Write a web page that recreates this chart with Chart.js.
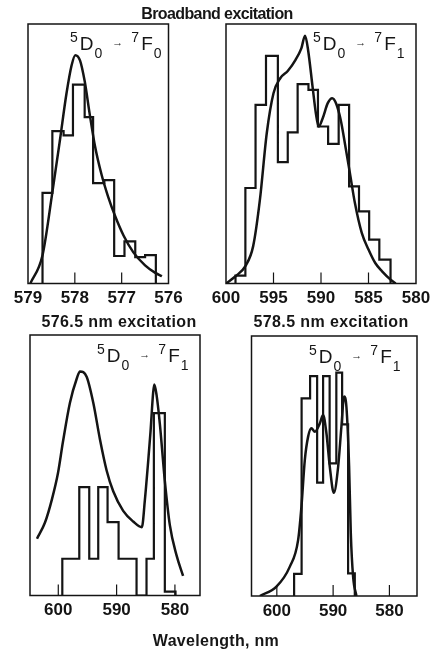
<!DOCTYPE html>
<html>
<head>
<meta charset="utf-8">
<script src="https://cdn.jsdelivr.net/npm/chart.js@4.4.0/dist/chart.umd.min.js"></script>
<style>
  body { margin: 0; background: #fff; width: 433px; height: 656px; position: relative; overflow: hidden;
         font-family: "Liberation Sans", Arial, sans-serif; color: #161616; }
  canvas { position: absolute; left: 0; top: 0; }
  .t { position: absolute; font-weight: bold; font-size: 16px; line-height: 16px; white-space: nowrap; transform: translate(-50%, -50%); }
  .lab { position: absolute; font-size: 19px; line-height: 18px; white-space: nowrap; }
  .lab .s { font-size: 14px; position: relative; top: -8px; margin-right: 2px; }
  .lab .b { font-size: 14px; position: relative; top: 8px; margin-left: 1px; }
  .lab .ar { font-size: 11px; position: relative; top: -4px; margin: 0 8px 0 10px; }
</style>
</head>
<body>
<canvas id="c1" width="433" height="656"></canvas>
<canvas id="c2" width="433" height="656"></canvas>
<canvas id="c3" width="433" height="656"></canvas>
<canvas id="c4" width="433" height="656"></canvas>

<div class="t" style="left:217px;top:14px;letter-spacing:-0.6px">Broadband excitation</div>
<div class="t" style="left:119px;top:322px;letter-spacing:0.4px">576.5 nm excitation</div>
<div class="t" style="left:331px;top:322px;letter-spacing:0.4px">578.5 nm excitation</div>
<div class="t" style="left:216px;top:641px;letter-spacing:0.3px">Wavelength, nm</div>

<div class="lab" style="left:70px;top:35px"><span class="s">5</span>D<span class="b">0</span><span class="ar">&rarr;</span><span class="s">7</span>F<span class="b">0</span></div>
<div class="lab" style="left:313px;top:35px"><span class="s">5</span>D<span class="b">0</span><span class="ar">&rarr;</span><span class="s">7</span>F<span class="b">1</span></div>
<div class="lab" style="left:97px;top:347px"><span class="s">5</span>D<span class="b">0</span><span class="ar">&rarr;</span><span class="s">7</span>F<span class="b">1</span></div>
<div class="lab" style="left:309px;top:348px"><span class="s">5</span>D<span class="b">0</span><span class="ar">&rarr;</span><span class="s">7</span>F<span class="b">1</span></div>

<script>
// panel 1: broadband, 5D0 -> 7F0
const p1Ticks = [576, 577, 578, 579];
const p1Edges = [578.69, 578.48, 578.24, 578.04, 577.79, 577.61, 577.37, 577.16, 576.94, 576.71, 576.50, 576.27];
const p1Counts = [34.9, 58.7, 57.1, 76.6, 64.1, 38.7, 39.8, 10.6, 16.2, 10.2, 10.9];
const p1CurveX = [578.95, 578.69, 578.48, 578.32, 578.18, 578.07, 577.99, 577.89, 577.79, 577.68, 577.57, 577.43, 577.29, 577.14, 576.96, 576.75, 576.50, 576.29, 576.14];
const p1CurveY = [0, 10.9, 35.1, 55, 73, 84, 88, 86, 78, 65, 53, 42, 33.5, 26, 18.5, 12, 7, 4.2, 2.8];

// panel 2: broadband, 5D0 -> 7F1
const p2Ticks = [580, 585, 590, 595, 600];
const p2Edges = [599.0, 597.96, 596.89, 595.79, 594.54, 593.5, 592.46, 591.32, 590.32, 589.25, 588.14, 587.04, 586.0, 584.93, 583.86, 582.68];
const p2Counts = [3, 36.8, 68.8, 87.7, 46.8, 58.2, 76.8, 74.6, 60.5, 53.8, 68.8, 37.4, 27.8, 16.9, 9.2];
const p2CurveX = [600.0, 599.0, 597.96, 597.14, 596.43, 595.71, 595.0, 594.29, 593.5, 592.68, 592.07, 591.68, 591.36, 590.89, 590.54, 590.25, 589.82, 589.29, 588.82, 588.39, 587.93, 587.43, 586.96, 586.43, 585.71, 585.0, 584.29, 583.57, 582.68, 582.14];
const p2CurveY = [0, 2.8, 6.7, 14.4, 32.3, 57.9, 73.3, 79.1, 81.9, 86.2, 90.6, 95.5, 90, 75.9, 65.6, 60.5, 63.7, 69.5, 71.4, 69.2, 63.1, 52.8, 42.6, 31, 19.5, 13.1, 7.9, 4.7, 1.5, 0];

// panel 3: 576.5 nm excitation
const p3Ticks = [580, 590, 600];
const p3Edges = [599.31, 596.4, 594.69, 593.15, 591.55, 589.66, 586.58, 584.87, 583.61, 581.73, 579.9];
const p3Counts = [14.1, 41.6, 14.1, 41.6, 28.2, 14.1, 0, 14.1, 70, 1.5];
const p3CurveX = [603.65, 602.28, 601.08, 600.05, 599.2, 598.0, 596.8, 596.28, 595.14, 594.0, 592.86, 591.71, 590.58, 588.87, 587.16, 585.67, 585.15, 584.64, 584.18, 583.73, 583.53, 583.15, 582.59, 581.73, 580.87, 579.73, 578.6];
const p3CurveY = [21.8, 28, 37, 47, 59, 74, 83.5, 86, 84, 74, 60, 48, 40, 32.5, 28.4, 26.2, 36.7, 50, 63, 78, 81, 77, 66, 44, 27, 15.5, 7.5];

// panel 4: 578.5 nm excitation
const p4Ticks = [580, 590, 600];
const p4Edges = [596.93, 595.6, 594.09, 592.84, 591.78, 590.62, 589.43, 588.4, 587.34, 586.15];
const p4Counts = [8.5, 76, 84.6, 43.6, 84.6, 51, 85.9, 66, 8.7];
const p4CurveX = [603.02, 600.07, 597.69, 596.22, 595.63, 595.03, 594.44, 593.85, 593.25, 592.36, 591.78, 591.19, 590.59, 589.88, 589.11, 588.53, 588.05, 587.64, 587.16, 586.86, 586.45, 585.86];
const p4CurveY = [0, 3.6, 11.3, 21.5, 34.3, 52.3, 61.3, 64.5, 63.2, 66.4, 69.6, 62.6, 49.7, 39.7, 49.7, 65.1, 76.7, 72.8, 49.7, 24.1, 7.4, 0];

const INK = '#141414';
const W = 433, H = 656, AXIS_H = 34;

// outline of a histogram: up at the first edge, across each bin, down at the last edge
function histPoints(edges, counts) {
  const pts = [{ x: edges[0], y: 0 }];
  counts.forEach((c, i) => pts.push({ x: edges[i], y: c }));
  pts.push({ x: edges[edges.length - 1], y: 0 });
  return pts;
}

// box round the plot area + short tick marks pointing inwards
const frame = {
  id: 'frame',
  afterDatasetsDraw(chart) {
    const { ctx, chartArea: a, scales: { x } } = chart;
    ctx.save();
    ctx.strokeStyle = INK;
    ctx.lineWidth = 1.5;
    ctx.strokeRect(a.left, a.top, a.right - a.left, a.bottom - a.top);
    ctx.lineWidth = 1.2;
    x.ticks.forEach(t => {
      if (t.value <= x.min || t.value >= x.max) return;
      const px = x.getPixelForValue(t.value);
      ctx.beginPath();
      ctx.moveTo(px, a.bottom);
      ctx.lineTo(px, a.bottom - 11);
      ctx.stroke();
    });
    ctx.restore();
  }
};

function makePanel(id, box, range, ticks, edges, counts, cx, cy) {
  new Chart(document.getElementById(id), {
    type: 'line',
    data: {
      datasets: [
        {
          data: histPoints(edges, counts),
          stepped: 'before',
          borderColor: INK,
          borderWidth: 2.2,
          pointRadius: 0
        },
        {
          data: cx.map((v, i) => ({ x: v, y: cy[i] })),
          borderColor: INK,
          borderWidth: 2.5,
          cubicInterpolationMode: 'monotone',
          pointRadius: 0
        }
      ]
    },
    options: {
      responsive: false,
      animation: false,
      devicePixelRatio: 1,
      layout: { padding: { left: box[0], top: box[1], right: W - box[2], bottom: H - box[3] - AXIS_H } },
      plugins: { legend: { display: false }, tooltip: { enabled: false } },
      scales: {
        x: {
          type: 'linear',
          reverse: true,
          min: range[0],
          max: range[1],
          afterBuildTicks: s => { s.ticks = ticks.map(v => ({ value: v })); },
          afterFit: s => { s.height = AXIS_H; },
          grid: { display: false, drawTicks: false },
          border: { display: false },
          ticks: {
            color: INK,
            autoSkip: false,
            maxRotation: 0,
            padding: 5,
            font: { family: 'Liberation Sans', size: 17, weight: 'bold' }
          }
        },
        y: { display: false, min: 0, max: 100 }
      }
    },
    plugins: [frame]
  });
}

makePanel('c1', [28, 24, 168.5, 283.5], [576, 579], p1Ticks, p1Edges, p1Counts, p1CurveX, p1CurveY);
makePanel('c2', [226, 24, 416, 283.5], [580, 600], p2Ticks, p2Edges, p2Counts, p2CurveX, p2CurveY);
makePanel('c3', [30, 335, 200, 595.5], [575.7, 604.85], p3Ticks, p3Edges, p3Counts, p3CurveX, p3CurveY);
makePanel('c4', [251.5, 336, 417, 596], [575.1, 604.5], p4Ticks, p4Edges, p4Counts, p4CurveX, p4CurveY);
</script>
</body>
</html>
